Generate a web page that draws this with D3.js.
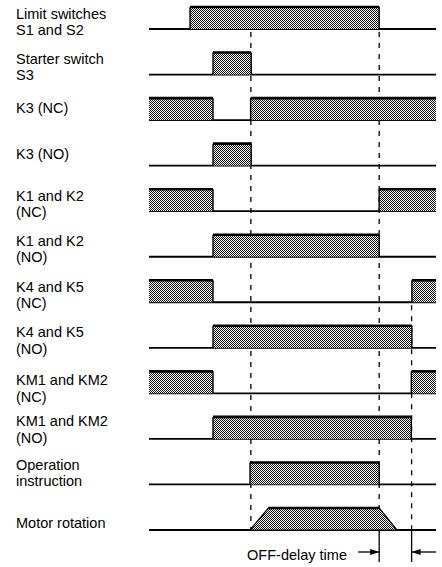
<!DOCTYPE html>
<html>
<head>
<meta charset="utf-8">
<script src="https://cdn.jsdelivr.net/npm/d3@7"></script>
<style>
  html, body { margin: 0; padding: 0; background: #fff; }
</style>
</head>
<body>
<div id="chart"></div>
<script>
//
// Timing chart data (time in arbitrary units, 0 = left edge, 100 = right edge)
//
const signalLabels = [
  ['Limit switches', 'S1 and S2'],
  ['Starter switch', 'S3'],
  ['K3 (NC)'],
  ['K3 (NO)'],
  ['K1 and K2', '(NC)'],
  ['K1 and K2', '(NO)'],
  ['K4 and K5', '(NC)'],
  ['K4 and K5', '(NO)'],
  ['KM1 and KM2', '(NC)'],
  ['KM1 and KM2', '(NO)'],
  ['Operation', 'instruction'],
  ['Motor rotation']
]

// ON intervals [start, end] for each signal row
const onIntervals = [
  [[14.3, 80.2]],
  [[22.3, 35.6]],
  [[0, 22.3], [35.4, 100]],
  [[22.3, 35.6]],
  [[0, 22.3], [80.2, 100]],
  [[22.3, 80.2]],
  [[0, 22.3], [91.6, 100]],
  [[22.3, 91.6]],
  [[0, 22.3], [91.4, 100]],
  [[22.3, 91.4]],
  [[35.2, 80.2]],
  []
]

// motor speed profile: start ramp, reach speed, begin coast, stopped
const motorRamp = [35.2, 41.6, 80.2, 86.4]

// dashed reference markers: time and the row they start from
const markerTimes = [35.5, 80.2, 91.5]
const markerFromRow = [0, 0, 6]

// OFF-delay span
const offDelay = [80.2, 91.5]
const offDelayLabel = 'OFF-delay time'

//
// Layout
//
const width = 442
const height = 567
const levelHeight = 22
const fontSize = 14.5
const lineGap = 16.2
// small per-row label nudges to follow the original typesetting
const labelNudge = [0, 0, 0, 0, 0, 0, 0, 0, 2.5, -2, -4, 4.5]

const x = d3.scaleLinear().domain([0, 100]).range([149, 436])
const y = d3.scaleLinear().domain([0, signalLabels.length - 1]).range([29, 530])

const svg = d3.select('#chart')
  .append('svg')
  .attr('width', width)
  .attr('height', height)
  .attr('viewBox', [0, 0, width, height])
  .style('font-family', '"Liberation Sans", Arial, Helvetica, sans-serif')

// halftone fill
const defs = svg.append('defs')
const pat = defs.append('pattern')
  .attr('id', 'halftone')
  .attr('width', 2)
  .attr('height', 2)
  .attr('patternUnits', 'userSpaceOnUse')
pat.append('rect').attr('width', 2).attr('height', 2).attr('fill', '#fff')
pat.append('rect').attr('x', 0).attr('y', 0).attr('width', 1).attr('height', 1).attr('fill', '#111')
pat.append('rect').attr('x', 1).attr('y', 1).attr('width', 1).attr('height', 1).attr('fill', '#111')

// labels
const labelG = svg.append('g')
  .attr('font-size', fontSize)
  .attr('fill', '#000')

signalLabels.forEach((lines, i) => {
  const base = y(i)
  const first = lines.length > 1 ? base - 10.5 : base - 7
  const t = labelG.append('text')
    .attr('x', 16)
    .attr('y', first + labelNudge[i])
  lines.forEach((s, j) => {
    t.append('tspan')
      .attr('x', 16)
      .attr('dy', j === 0 ? 0 : lineGap)
      .text(s)
  })
})

// dashed markers (drawn first so waveforms sit on top)
const markerG = svg.append('g')
  .attr('stroke', '#000')
  .attr('stroke-width', 1.3)
  .attr('stroke-dasharray', '5,6')
markerTimes.forEach((t, i) => {
  markerG.append('line')
    .attr('x1', x(t)).attr('x2', x(t))
    .attr('y1', y(markerFromRow[i]) + 3)
    .attr('y2', y(signalLabels.length - 1))
})

// baselines
svg.append('g')
  .selectAll('line')
  .data(signalLabels)
  .join('line')
  .attr('x1', x(0))
  .attr('x2', x(100))
  .attr('y1', (d, i) => y(i))
  .attr('y2', (d, i) => y(i))
  .attr('stroke', '#000')
  .attr('stroke-width', 1.8)

// ON pulses
const pulseG = svg.append('g')
onIntervals.forEach((ints, i) => {
  const base = y(i)
  const top = base - levelHeight
  ints.forEach(([a, b]) => {
    pulseG.append('rect')
      .attr('x', x(a))
      .attr('y', top)
      .attr('width', x(b) - x(a))
      .attr('height', levelHeight)
      .attr('fill', 'url(#halftone)')
    pulseG.append('line')
      .attr('x1', x(a)).attr('x2', x(b))
      .attr('y1', top).attr('y2', top)
      .attr('stroke', '#000')
      .attr('stroke-width', 2.6)
    ;[a, b].forEach(t => {
      if (t <= 0 || t >= 100) return
      pulseG.append('line')
        .attr('x1', x(t)).attr('x2', x(t))
        .attr('y1', top).attr('y2', base)
        .attr('stroke', '#000')
        .attr('stroke-width', 1.4)
    })
  })
})

// motor rotation trapezoid
const mBase = y(signalLabels.length - 1)
const mTop = mBase - levelHeight
const motorPts = [
  [x(motorRamp[0]), mBase],
  [x(motorRamp[1]), mTop],
  [x(motorRamp[2]), mTop],
  [x(motorRamp[3]), mBase]
]
svg.append('path')
  .attr('d', d3.line()(motorPts) + 'Z')
  .attr('fill', 'url(#halftone)')
  .attr('stroke', '#000')
  .attr('stroke-width', 1.2)
svg.append('line')
  .attr('x1', motorPts[1][0]).attr('x2', motorPts[2][0])
  .attr('y1', mTop).attr('y2', mTop)
  .attr('stroke', '#000')
  .attr('stroke-width', 2.6)

// OFF-delay dimension
const dimY = 552
const dimG = svg.append('g').attr('stroke', '#000').attr('stroke-width', 1.3)
offDelay.forEach(t => {
  dimG.append('line')
    .attr('x1', x(t)).attr('x2', x(t))
    .attr('y1', mBase).attr('y2', 562)
})
dimG.append('line')
  .attr('x1', x(offDelay[0]) - 21).attr('x2', x(offDelay[0]))
  .attr('y1', dimY).attr('y2', dimY)
dimG.append('line')
  .attr('x1', x(offDelay[1])).attr('x2', x(100))
  .attr('y1', dimY).attr('y2', dimY)
// arrowheads
const ax0 = x(offDelay[0])
const ax1 = x(offDelay[1])
svg.append('path')
  .attr('d', `M${ax0},${dimY}L${ax0 - 9},${dimY - 3}L${ax0 - 9},${dimY + 3}Z`)
  .attr('fill', '#000')
svg.append('path')
  .attr('d', `M${ax1},${dimY}L${ax1 + 9},${dimY - 3}L${ax1 + 9},${dimY + 3}Z`)
  .attr('fill', '#000')

svg.append('text')
  .attr('x', 347)
  .attr('y', 560)
  .attr('text-anchor', 'end')
  .attr('font-size', fontSize)
  .text(offDelayLabel)
</script>
</body>
</html>
